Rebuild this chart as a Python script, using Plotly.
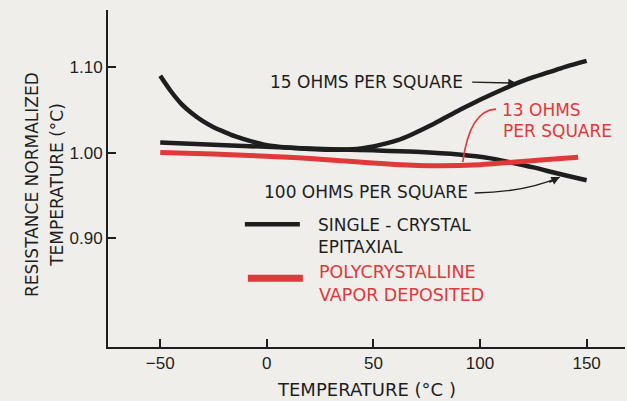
import plotly.graph_objects as go

# Temperature coefficient curves (resistance normalized to room temperature)
temp_15 = [-50, -45, -40, -35, -30, -25, -20, -15, -10, -5, 0, 10, 20, 30, 40, 45, 50, 55,
           61, 68, 76, 84, 92, 100, 110, 118, 125, 132, 140, 150]
res_15 = [1.090, 1.072, 1.057, 1.046, 1.037, 1.030, 1.0245, 1.0195, 1.0155, 1.012, 1.009,
          1.0062, 1.0045, 1.0037, 1.0042, 1.0055, 1.0075, 1.0105, 1.0145, 1.0215, 1.031,
          1.0415, 1.052, 1.062, 1.0735, 1.082, 1.0885, 1.094, 1.1005, 1.1075]

temp_100 = [-50, -25, 0, 30, 50, 70, 90, 105, 115, 125, 137, 150]
res_100 = [1.012, 1.0095, 1.007, 1.0042, 1.003, 1.0012, 0.998, 0.9935, 0.9885, 0.983,
           0.9755, 0.968]

temp_13 = [-50, -25, 0, 20, 40, 60, 80, 100, 115, 130, 146]
res_13 = [1.0005, 0.9985, 0.996, 0.9935, 0.9898, 0.9865, 0.985, 0.9862, 0.989, 0.9918,
          0.9948]

x_ticks = [-50, 0, 50, 100, 150]
y_ticks = [0.90, 1.00, 1.10]
y_tick_labels = ["0.90", "1.00", "1.10"]

BLACK = "#1e1e1e"
RED = "#e0393b"
BG = "#efeeeb"
TICK_FONT = "Liberation Sans, Arial, sans-serif"
LABEL_FONT = "DejaVu Sans, Verdana, sans-serif"


def curve(x, y, color, width):
    return go.Scatter(x=x, y=y, mode="lines",
                      line=dict(color=color, width=width, shape="spline",
                                smoothing=1.0, simplify=False))


fig = go.Figure()
fig.add_trace(curve(temp_15, res_15, BLACK, 4.5))
fig.add_trace(curve(temp_100, res_100, BLACK, 4.5))
fig.add_trace(curve(temp_13, res_13, RED, 5))


def label(text, x, y, color=BLACK, xanchor="left", size=17):
    fig.add_annotation(x=x, y=y, xref="x", yref="y", text=text, showarrow=False,
                       xanchor=xanchor, yanchor="middle",
                       font=dict(family=LABEL_FONT, size=size, color=color))


# curve labels
label("15 OHMS PER SQUARE", 92.8, 1.0827, xanchor="right")
label("100 OHMS PER SQUARE", 95.2, 0.954, xanchor="right")
label("13 OHMS", 109.2, 1.0499, color=RED)
label("PER SQUARE", 110.0, 1.0255, color=RED)

# arrow toward the 15-ohm curve
fig.add_annotation(x=117.2, y=1.0815, ax=95.6, ay=1.0827, axref="x", ayref="y",
                   xref="x", yref="y", text="", showarrow=True,
                   arrowhead=2, arrowsize=1.2, arrowwidth=1.4, arrowcolor=BLACK)

# curved arrow toward the 100-ohm curve
fig.add_shape(type="path", xref="x", yref="y",
              path="M 97.5,0.953 Q 121,0.954 137.4,0.9717",
              line=dict(color=BLACK, width=1.4))
fig.add_annotation(x=137.4, y=0.9717, ax=-12, ay=6, xref="x", yref="y",
                   text="", showarrow=True,
                   arrowhead=2, arrowsize=1.2, arrowwidth=1.4, arrowcolor=BLACK)

# pointer for the 13-ohm curve
fig.add_shape(type="path", xref="x", yref="y",
              path="M 91.9,0.9891 Q 95.2,1.0499 107.5,1.0511",
              line=dict(color=RED, width=1.6))

# key
fig.add_shape(type="line", xref="x", yref="y", x0=-10.3, x1=15.5, y0=0.9166, y1=0.9166,
              line=dict(color=BLACK, width=4.5))
fig.add_shape(type="line", xref="x", yref="y", x0=-8.9, x1=16.9, y0=0.8534, y1=0.8534,
              line=dict(color=RED, width=7))
label("SINGLE - CRYSTAL", 23.0, 0.9154)
label("EPITAXIAL", 23.0, 0.8897)
label("POLYCRYSTALLINE", 23.4, 0.8605, color=RED, size=17.5)
label("VAPOR DEPOSITED", 23.4, 0.8336, color=RED, size=17.5)

# axis titles
fig.add_annotation(x=-0.170, y=0.481, xref="paper", yref="paper",
                   text="RESISTANCE NORMALIZED", textangle=-90, showarrow=False,
                   font=dict(family=LABEL_FONT, size=17, color=BLACK))
fig.add_annotation(x=-0.122, y=0.481, xref="paper", yref="paper",
                   text="TEMPERATURE (°C)", textangle=-90, showarrow=False,
                   font=dict(family=LABEL_FONT, size=17, color=BLACK))
fig.add_annotation(x=0.500, y=-0.127, xref="paper", yref="paper",
                   text="TEMPERATURE (°C )", showarrow=False, yanchor="middle",
                   font=dict(family=LABEL_FONT, size=18, color=BLACK))

fig.update_layout(
    width=627, height=401,
    margin=dict(l=108, r=2, t=10, b=54),
    paper_bgcolor=BG, plot_bgcolor=BG,
    showlegend=False,
    font=dict(family=TICK_FONT, size=16, color=BLACK),
)
fig.update_xaxes(range=[-74.5, 168], tickvals=x_ticks, ticks="inside", ticklen=8,
                 tickwidth=1.5, tickcolor=BLACK, showline=True, linecolor=BLACK,
                 linewidth=2, showgrid=False, zeroline=False,
                 tickfont=dict(family=TICK_FONT, size=17, color=BLACK))
fig.update_yaxes(range=[0.773, 1.167], tickvals=y_ticks, ticktext=y_tick_labels,
                 ticks="inside", ticklen=8, tickwidth=1.5, tickcolor=BLACK,
                 showline=True, linecolor=BLACK, linewidth=2, showgrid=False,
                 zeroline=False, tickfont=dict(family=TICK_FONT, size=17, color=BLACK))

fig.write_html("out.html")
